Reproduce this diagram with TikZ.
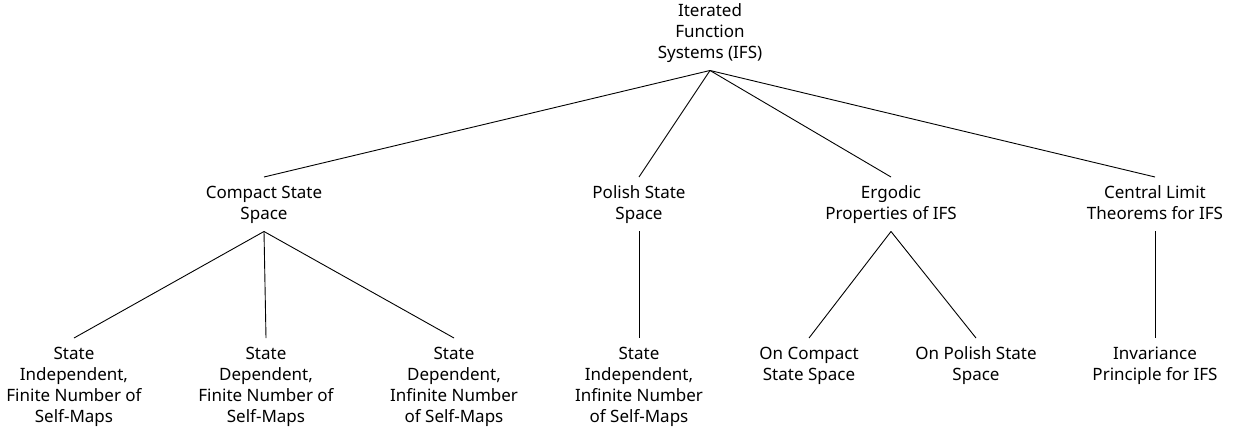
\documentclass[tikz,border=0pt]{standalone}
\usepackage{fontspec}
\setmainfont{Noto Sans}
\newcommand\mystrut{\rule[-4pt]{0pt}{17pt}}
\begin{document}
\begin{tikzpicture}[x=1pt,y=1pt,
  lbl/.style={align=center,anchor=north,font=\fontsize{17}{21}\selectfont,
    inner ysep=8pt,inner xsep=0pt},
  edge/.style={draw=black,line width=0.9pt}]
\useasboundingbox (0,0) rectangle (1238,-431);
\node[lbl] (root) at (710,5) {\mystrut Iterated\\Function\\Systems (IFS)\mystrut};
\node[lbl] (cs) at (264,-177) {\mystrut Compact State\\Space\mystrut};
\node[lbl] (ps) at (639,-177) {\mystrut Polish State\\Space\mystrut};
\node[lbl] (ep) at (891,-177) {\mystrut Ergodic\\Properties of IFS\mystrut};
\node[lbl] (cl) at (1155,-177) {\mystrut Central Limit\\Theorems for IFS\mystrut};
\node[lbl] (a1) at (74,-338) {\mystrut State\\Independent,\\Finite Number of\\Self-Maps\mystrut};
\node[lbl] (a2) at (266,-338) {\mystrut State\\Dependent,\\Finite Number of\\Self-Maps\mystrut};
\node[lbl] (a3) at (454,-338) {\mystrut State\\Dependent,\\Infinite Number\\of Self-Maps\mystrut};
\node[lbl] (b1) at (639,-338) {\mystrut State\\Independent,\\Infinite Number\\of Self-Maps\mystrut};
\node[lbl] (c1) at (809,-338) {\mystrut On Compact\\State Space\mystrut};
\node[lbl] (c2) at (976,-338) {\mystrut On Polish State\\Space\mystrut};
\node[lbl] (d1) at (1155,-338) {\mystrut Invariance\\Principle for IFS\mystrut};
\foreach \t in {cs,ps,ep,cl} \draw[edge] (root.south) -- (\t.north);
\foreach \t in {a1,a2,a3} \draw[edge] (cs.south) -- (\t.north);
\draw[edge] (ps.south) -- (b1.north);
\foreach \t in {c1,c2} \draw[edge] (ep.south) -- (\t.north);
\draw[edge] (cl.south) -- (d1.north);
\end{tikzpicture}
\end{document}
